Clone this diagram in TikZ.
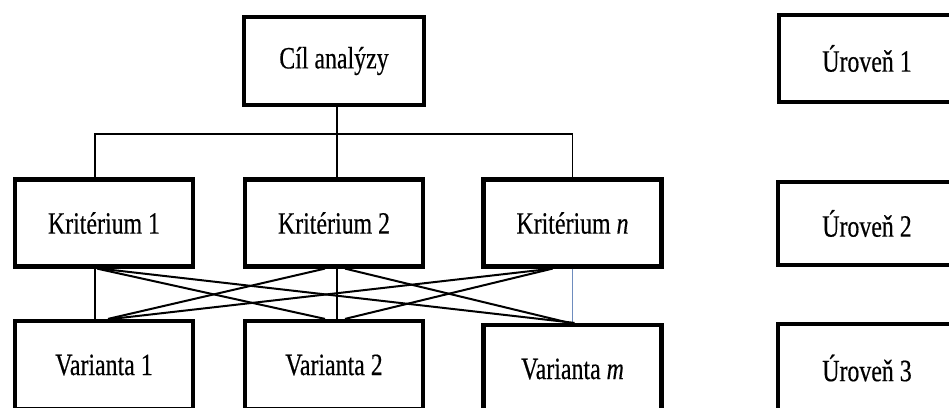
\documentclass[tikz,border=0pt]{standalone}
\usepackage{fontspec}
\setmainfont{Liberation Serif}
\newfontfamily\boxfont[FakeStretch=0.77, FakeBold=0.4]{Liberation Serif}
\usetikzlibrary{calc}
\definecolor{linkblue}{RGB}{110,140,190}
\tikzset{
  levelbox/.style={draw=black, line width=4.2pt, rectangle, inner sep=0pt,
    minimum width=178pt, minimum height=87pt,
    font=\boxfont\fontsize{31}{34}\selectfont},
  treeline/.style={line width=1.6pt},
  crossline/.style={line width=2pt},
  plainline/.style={line width=1.3pt}
}
\begin{document}
\begin{tikzpicture}[x=1pt, y=-1pt]
  \useasboundingbox (0,0) rectangle (949,407);
  \clip (0,0) rectangle (949,407);

  % hierarchy boxes
  \node[levelbox, minimum width=180pt, minimum height=88pt] (cil) at (334,61) {Cíl analýzy};
  \node[levelbox] (k1) at (104,223) {Kritérium 1};
  \node[levelbox] (k2) at (334,223) {Kritérium 2};
  \node[levelbox] (kn) at (572.5,223) {Kritérium \textit{n}};
  \node[levelbox, minimum height=88pt] (v1) at (104,365) {Varianta 1};
  \node[levelbox, minimum height=88pt] (v2) at (334,365) {Varianta 2};
  \node[levelbox, minimum height=88pt] (vm) at (572.5,369) {Varianta \textit{m}};

  % level labels on the right
  \node[levelbox, minimum width=176pt] (u1) at (867,58.5) {Úroveň 1};
  \node[levelbox, minimum height=83pt] (u2) at (867,223.5) {Úroveň 2};
  \node[levelbox, minimum height=88pt] (u3) at (867,368) {Úroveň 3};

  % goal to criteria
  \coordinate (bar) at ($(cil.south)+(3,27)$);
  \draw[treeline] ([xshift=3]cil.south) -- ([xshift=3]k2.north);
  \draw[treeline] ([xshift=-9]k1.north) |- (bar) -| (kn.north);

  % criteria to variants
  \draw[plainline] ([xshift=-9]k1.south) -- ([xshift=-9]v1.north);
  \draw[plainline] ([xshift=3]k2.south) -- ([xshift=3]v2.north);
  \draw[plainline, linkblue] (kn.south) -- (vm.north);

  \draw[crossline] ([xshift=-7]k1.south) -- ([xshift=-9]v2.north);
  \draw[crossline] ([xshift=-4]k1.south) -- ([xshift=2]vm.north);
  \draw[crossline] ([xshift=-9]k2.south) -- ([xshift=4]v1.north);
  \draw[crossline] ([xshift=11]k2.south) -- ([xshift=-3]vm.north);
  \draw[crossline] ([xshift=-20]kn.south) -- ([xshift=8]v1.north);
  \draw[crossline] ([xshift=-20]kn.south) -- ([xshift=11]v2.north);
\end{tikzpicture}
\end{document}
